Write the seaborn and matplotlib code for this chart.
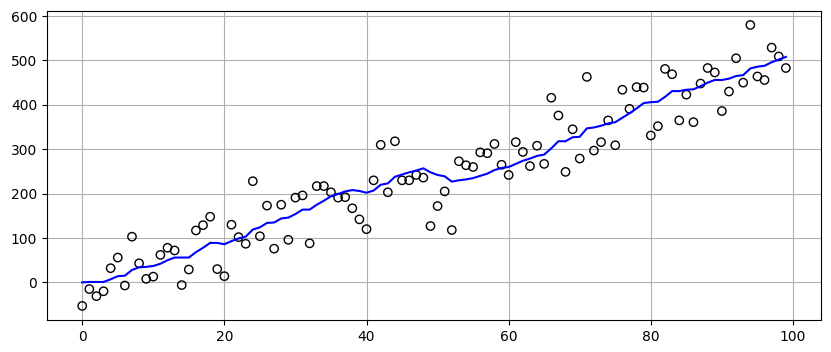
import matplotlib
matplotlib.use("Agg")
import matplotlib.pyplot as plt
import seaborn as sns
import numpy as np
import pandas as pd

x_vals = list(range(100))
scatter_y = [
    -53, -15, -31, -20, 32, 56, -7, 103, 43, 8,
    13, 62, 78, 72, -6, 29, 117, 129, 148, 30,
    14, 130, 102, 87, 228, 104, 173, 76, 175, 96,
    191, 196, 88, 217, 217, 203, 191, 192, 167, 142,
    120, 230, 310, 203, 318, 230, 230, 242, 236, 127,
    172, 205, 118, 273, 264, 260, 293, 291, 312, 265,
    242, 316, 294, 262, 308, 267, 416, 376, 249, 345,
    279, 463, 297, 316, 365, 309, 434, 391, 440, 439,
    331, 352, 481, 469, 365, 423, 361, 448, 483, 473,
    386, 430, 505, 450, 580, 464, 456, 529, 509, 483,
]
line_y = [
    0, 1, 1, 1, 7, 14, 15, 28, 34, 35,
    37, 42, 50, 56, 56, 56, 68, 78, 89, 89,
    86, 93, 99, 103, 119, 124, 134, 135, 144, 146,
    154, 164, 164, 175, 184, 194, 199, 205, 208, 206,
    202, 207, 220, 223, 238, 243, 248, 252, 257, 248,
    242, 239, 227, 230, 232, 235, 240, 245, 253, 258,
    260, 267, 274, 279, 285, 288, 302, 318, 318, 327,
    328, 347, 349, 353, 358, 361, 371, 381, 392, 404,
    406, 407, 418, 431, 431, 434, 435, 442, 450, 456,
    456, 459, 465, 467, 482, 486, 488, 496, 502, 508,
]

df = pd.DataFrame({"x": x_vals, "y": scatter_y, "line": line_y})

fig = plt.figure(figsize=(8.31, 3.52), dpi=100)
ax = fig.add_axes([0.0566, 0.091, 0.9314, 0.878])
sns.scatterplot(data=df, x="x", y="y", ax=ax, s=36, facecolor="none",
                edgecolor="black", linewidth=1)
sns.lineplot(data=df, x="x", y="line", ax=ax, color="blue", linewidth=1.5)
ax.set_xlabel("")
ax.set_ylabel("")
ax.grid(True, color="#b0b0b0", linewidth=0.8)
ax.set_axisbelow(True)
fig.savefig("out.png", dpi=100)
